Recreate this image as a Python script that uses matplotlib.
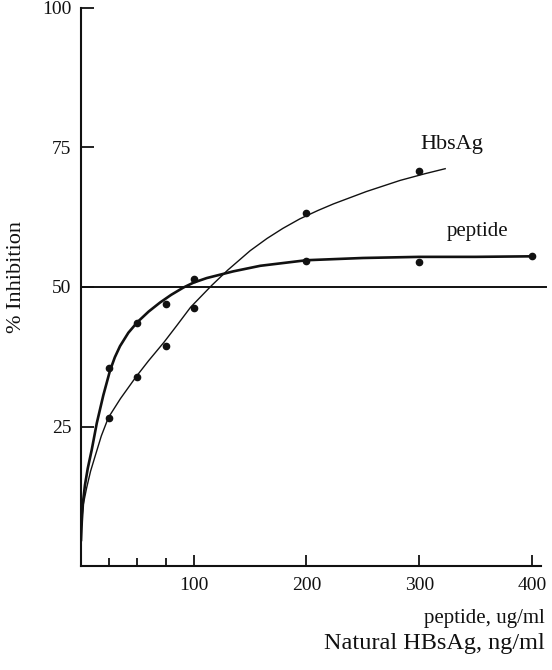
import matplotlib
matplotlib.use("Agg")
import matplotlib.pyplot as plt
from matplotlib.ticker import FixedLocator

plt.rcParams['font.family'] = ['Liberation Serif', 'DejaVu Serif']

# Measured data points
peptide_x = [25, 50, 75, 100, 200, 300, 400]
peptide_y = [35.5, 43.5, 47.0, 51.5, 54.7, 54.5, 55.5]
hbsag_x = [25, 50, 75, 100, 200, 300]
hbsag_y = [26.5, 33.8, 39.5, 46.3, 63.3, 70.8]

# Hand-drawn fitted curves
peptide_curve_x = [0, 0.7, 1.8, 3.5, 6, 9.5, 14, 19.8, 25.7, 30, 34.6, 42, 50, 60, 70, 80,
                   90.8, 100, 111.5, 135, 159, 200, 250, 300, 350, 400]
peptide_curve_y = [4.5, 8, 11.5, 14.5, 17.5, 20.8, 25.6, 30.6, 35.0, 37.4, 39.4, 41.8, 43.7,
                   45.6, 47.2, 48.6, 49.9, 50.8, 51.6, 52.8, 53.8, 54.8, 55.2, 55.4, 55.4, 55.5]
hbsag_curve_x = [0.5, 2, 5, 8.5, 12.4, 18, 24.3, 35, 48.8, 60, 73.6, 85, 97.3, 116, 130,
                 150, 165, 179, 194, 210, 224, 253, 283, 305, 323]
hbsag_curve_y = [8, 11, 14, 17, 19.6, 23.3, 26.6, 30.0, 33.9, 36.8, 40.1, 43.1, 46.4, 50.3,
                 53.0, 56.5, 58.7, 60.5, 62.2, 63.7, 64.9, 67.1, 69.1, 70.3, 71.2]

ref_level = 50
ref_x = [0, 412]

x_major = [100, 200, 300, 400]
x_major_labels = ['100', '200', '300', '400']
x_minor = [25, 50, 75]
y_major = [25, 50, 75, 100]
y_major_labels = ['25', '50', '75', '100']

W, H = 552, 670
fig = plt.figure(figsize=(W / 100, H / 100), dpi=100)
ax = fig.add_axes([81 / W, 1 - 566 / H, 460 / W, 558 / H])

ink = '#111111'
ax.plot(peptide_curve_x, peptide_curve_y, color=ink, lw=1.9, solid_capstyle='round',
        solid_joinstyle='round')
ax.plot(hbsag_curve_x, hbsag_curve_y, color=ink, lw=1.0, solid_joinstyle='round')
ax.plot(peptide_x, peptide_y, 'o', color=ink, ms=4.5)
ax.plot(hbsag_x, hbsag_y, 'o', color=ink, ms=4.5)
ax.plot(ref_x, [ref_level, ref_level], color=ink, lw=1.4, clip_on=False)

ax.set_xlim(0, 408)
ax.set_ylim(0, 100)
for s in ['top', 'right']:
    ax.spines[s].set_visible(False)
for s in ['left', 'bottom']:
    ax.spines[s].set_linewidth(1.5)
    ax.spines[s].set_color(ink)

ax.xaxis.set_major_locator(FixedLocator(x_major))
ax.set_xticklabels(x_major_labels)
ax.xaxis.set_minor_locator(FixedLocator(x_minor))
ax.yaxis.set_major_locator(FixedLocator(y_major))
ax.set_yticklabels(y_major_labels)

ax.tick_params(axis='x', which='major', direction='in', length=8, width=1.3,
               labelsize=14, pad=8, colors=ink)
ax.tick_params(axis='x', which='minor', direction='in', length=6, width=1.3, colors=ink)
ax.tick_params(axis='y', which='major', direction='in', length=9, width=1.3,
               labelsize=14, pad=7, colors=ink)

ax.text(300.8, 75.6, 'HbsAg', fontsize=16, ha='left', va='center', color=ink)
ax.text(324.8, 59.9, 'peptide', fontsize=15, ha='left', va='center', color=ink)

fig.text(17 / W, 1 - 277 / H, '% Inhibition', rotation=90, fontsize=16,
         ha='center', va='center', color=ink)
fig.text(545 / W, 1 - 618 / H, 'peptide, ug/ml', fontsize=15,
         ha='right', va='center', color=ink)
fig.text(545 / W, 1 - 644 / H, 'Natural HBsAg, ng/ml', fontsize=17.5,
         ha='right', va='center', color=ink)

fig.savefig('out.png', dpi=100)
